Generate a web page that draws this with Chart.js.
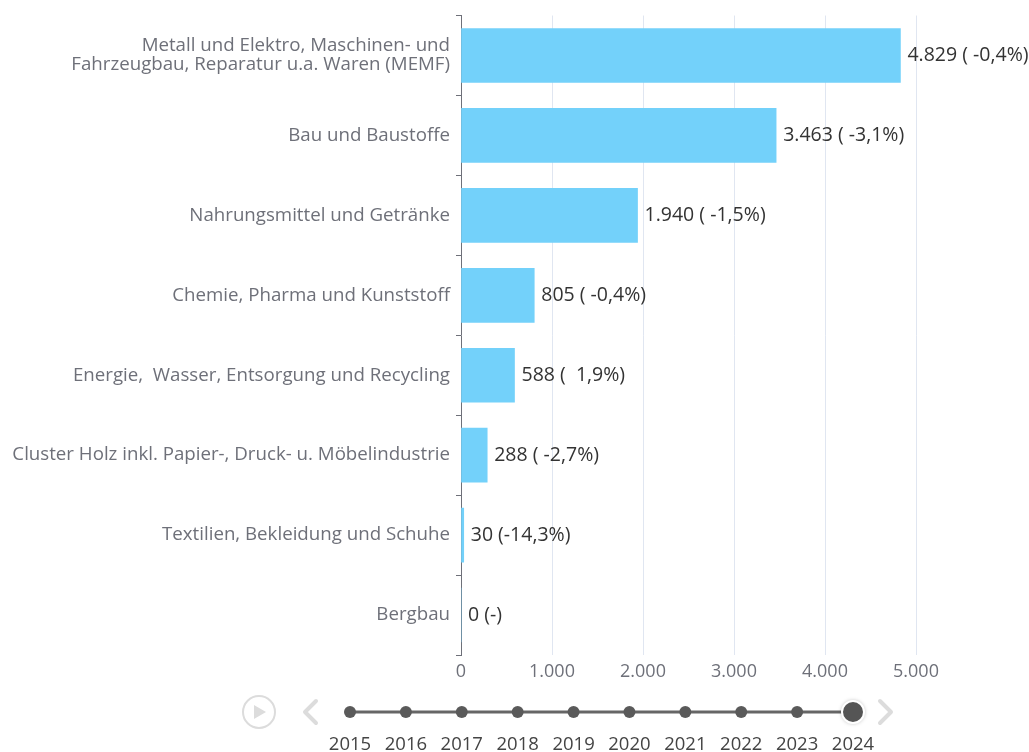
<!DOCTYPE html>
<html>
<head>
<meta charset="utf-8">
<script src="https://cdn.jsdelivr.net/npm/chart.js@4/dist/chart.umd.min.js"></script>
<style>
  html, body { margin: 0; padding: 0; background: #fff; }
  #wrap { width: 1029px; height: 752px; position: relative; }
</style>
</head>
<body>
<div id="wrap"><canvas id="chart" width="1029" height="752"></canvas></div>
<script>
// Branchen (sectors), values for 2024 and change vs. previous year
const categories = [
    ['Metall und Elektro, Maschinen- und', 'Fahrzeugbau, Reparatur u.a. Waren (MEMF)'],
    'Bau und Baustoffe',
    'Nahrungsmittel und Getränke',
    'Chemie, Pharma und Kunststoff',
    'Energie,  Wasser, Entsorgung und Recycling',
    'Cluster Holz inkl. Papier-, Druck- u. Möbelindustrie',
    'Textilien, Bekleidung und Schuhe',
    'Bergbau'
];
const values = [4829, 3463, 1940, 805, 588, 288, 30, 0];
const changes = [-0.4, -3.1, -1.5, -0.4, 1.9, -2.7, -14.3, null];
const years = ['2015', '2016', '2017', '2018', '2019', '2020', '2021', '2022', '2023', '2024'];
const currentYear = '2024';

const FONT = '"Open Sans", "Noto Sans", sans-serif';
const AXIS_COLOR = '#6e7079';

function fmtNum(v) {
    return v.toLocaleString('de-DE');
}

function fmtLabel(i) {
    const c = changes[i];
    if (c === null) return fmtNum(values[i]) + ' (-)';
    const pct = c.toFixed(1).replace('.', ',') + '%';
    return fmtNum(values[i]) + ' (' + pct.padStart(6, ' ') + ')';
}

// value labels at the end of each bar
const barLabels = {
    id: 'barLabels',
    afterDatasetsDraw(chart) {
        const ctx = chart.ctx;
        const meta = chart.getDatasetMeta(0);
        ctx.save();
        ctx.font = '19.5px ' + FONT;
        ctx.fillStyle = '#333';
        ctx.textBaseline = 'middle';
        ctx.textAlign = 'left';
        meta.data.forEach((bar, i) => {
            ctx.fillText(fmtLabel(i), bar.x + 7, bar.y);
        });
        ctx.restore();
    }
};

// timeline control below the chart
const timeline = {
    id: 'timeline',
    afterDraw(chart) {
        const ctx = chart.ctx;
        const y = 712;
        const x0 = 350, x1 = 853;
        const step = (x1 - x0) / (years.length - 1);
        ctx.save();

        // play button
        ctx.strokeStyle = '#dcdcdc';
        ctx.lineWidth = 2;
        ctx.beginPath();
        ctx.arc(259, y, 16, 0, Math.PI * 2);
        ctx.stroke();
        ctx.fillStyle = '#dcdcdc';
        ctx.beginPath();
        ctx.moveTo(254, y - 7);
        ctx.lineTo(266, y);
        ctx.lineTo(254, y + 7);
        ctx.closePath();
        ctx.fill();

        // prev / next arrows
        ctx.lineWidth = 4;
        ctx.lineCap = 'round';
        ctx.lineJoin = 'round';
        ctx.beginPath();
        ctx.moveTo(316, y - 11);
        ctx.lineTo(305, y);
        ctx.lineTo(316, y + 11);
        ctx.stroke();
        ctx.beginPath();
        ctx.moveTo(880, y - 11);
        ctx.lineTo(891, y);
        ctx.lineTo(880, y + 11);
        ctx.stroke();

        // line
        ctx.strokeStyle = '#666';
        ctx.lineWidth = 3;
        ctx.lineCap = 'butt';
        ctx.beginPath();
        ctx.moveTo(x0, y);
        ctx.lineTo(x1, y);
        ctx.stroke();

        ctx.font = '18.5px ' + FONT;
        ctx.textAlign = 'center';
        ctx.textBaseline = 'middle';
        years.forEach((yr, i) => {
            const x = x0 + i * step;
            ctx.fillStyle = '#5a5a5a';
            if (yr === currentYear) {
                ctx.save();
                ctx.shadowColor = 'rgba(0,0,0,0.35)';
                ctx.shadowBlur = 4;
                ctx.beginPath();
                ctx.arc(x, y, 11, 0, Math.PI * 2);
                ctx.fillStyle = '#555';
                ctx.fill();
                ctx.restore();
                ctx.strokeStyle = '#fff';
                ctx.lineWidth = 2;
                ctx.beginPath();
                ctx.arc(x, y, 11, 0, Math.PI * 2);
                ctx.stroke();
            } else {
                ctx.beginPath();
                ctx.arc(x, y, 6, 0, Math.PI * 2);
                ctx.fill();
            }
            ctx.fillStyle = '#444';
            ctx.fillText(yr, x, 745);
        });
        ctx.restore();
    }
};

new Chart(document.getElementById('chart'), {
    type: 'bar',
    data: {
        labels: categories,
        datasets: [{
            data: values,
            backgroundColor: '#73d1fa',
            barThickness: 54
        }]
    },
    options: {
        indexAxis: 'y',
        responsive: false,
        animation: false,
        layout: { padding: { top: 14, right: 113, bottom: 0, left: 0 } },
        plugins: {
            legend: { display: false },
            tooltip: { enabled: false }
        },
        scales: {
            x: {
                min: 0,
                max: 5000,
                afterFit(scale) { scale.height = 97; },
                ticks: {
                    stepSize: 1000,
                    color: AXIS_COLOR,
                    font: { family: FONT, size: 18 },
                    padding: 6,
                    callback: v => fmtNum(v)
                },
                grid: {
                    color: ctx => ctx.tick && ctx.tick.value === 0 ? 'rgba(0,0,0,0)' : '#e0e6f1',
                    lineWidth: 1,
                    drawTicks: false
                },
                border: { display: false }
            },
            y: {
                afterFit(scale) { scale.width = 461; },
                ticks: {
                    color: AXIS_COLOR,
                    font: { family: FONT, size: 18.7, lineHeight: 1.02 },
                    padding: 6,
                    autoSkip: false
                },
                grid: {
                    offset: true,
                    drawOnChartArea: false,
                    drawTicks: true,
                    tickLength: 5,
                    color: AXIS_COLOR,
                    lineWidth: 1
                },
                border: { display: true, color: AXIS_COLOR, width: 1 }
            }
        }
    },
    plugins: [barLabels, timeline]
});
</script>
</body>
</html>
